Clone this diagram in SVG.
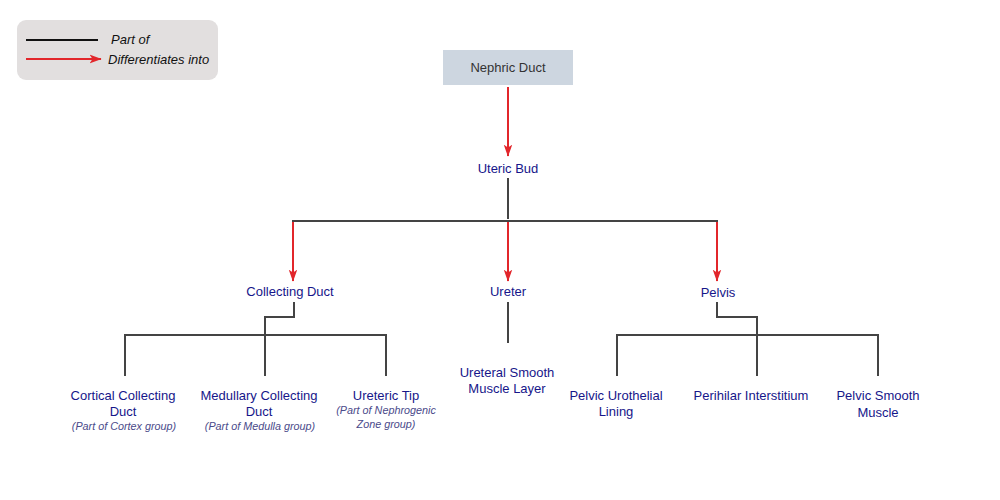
<svg xmlns="http://www.w3.org/2000/svg" width="1000" height="500" viewBox="0 0 1000 500">
<defs>
<marker id="arr" markerUnits="userSpaceOnUse" markerWidth="12" markerHeight="17" viewBox="0 0 17 12" refX="16" refY="6" orient="auto">
<path d="M0,0 L17,6 L0,12 L4,6 Z" fill="#e2262b"/>
</marker>
<style>
.part{stroke:#444;stroke-width:2;fill:none}
.diff{stroke:#e2262b;stroke-width:2;fill:none;marker-end:url(#arr)}
.lbl{font-family:"Liberation Sans",Arial,sans-serif;font-size:13px;fill:#16168a;text-anchor:middle}
.sub{font-family:"Liberation Sans",Arial,sans-serif;font-size:10.8px;font-style:italic;fill:#4a4a8a;text-anchor:middle}
.leg{font-family:"Liberation Sans",Arial,sans-serif;font-size:13px;font-style:italic;fill:#111}
</style>
</defs>
<rect width="1000" height="500" fill="#fff"/>
<g id="legend">
<rect x="17" y="20" width="201" height="60" rx="9" fill="#e2dfdf"/>
<line x1="26" y1="40" x2="98" y2="40" stroke="#111" stroke-width="2"/>
<line x1="26" y1="59" x2="101" y2="59" class="diff"/>
<text x="111" y="44" class="leg">Part of</text>
<text x="108" y="64" class="leg">Differentiates into</text>
</g>
<g id="connectors">
<line x1="508" y1="87" x2="508" y2="156" class="diff"/>
<line x1="508" y1="178" x2="508" y2="219" class="part"/>
<line x1="292" y1="221" x2="718" y2="221" class="part"/>
<line x1="293" y1="222" x2="293" y2="281" class="diff"/>
<line x1="508" y1="222" x2="508" y2="281" class="diff"/>
<line x1="717" y1="222" x2="717" y2="281" class="diff"/>
<polyline points="294,302 294,317 265,317 265,376" class="part"/>
<line x1="124" y1="335" x2="387" y2="335" class="part"/>
<line x1="125" y1="334" x2="125" y2="376" class="part"/>
<line x1="386" y1="334" x2="386" y2="376" class="part"/>
<line x1="508" y1="302" x2="508" y2="343" class="part"/>
<polyline points="717,302 717,317 757,317 757,376" class="part"/>
<line x1="616" y1="335" x2="879" y2="335" class="part"/>
<line x1="617" y1="334" x2="617" y2="376" class="part"/>
<line x1="878" y1="334" x2="878" y2="376" class="part"/>
</g>
<g id="nephric-duct">
<rect x="443" y="50" width="130" height="35" fill="#cdd6e0"/>
<text x="508" y="72" class="lbl" style="fill:#333">Nephric Duct</text>
</g>
<g id="uteric-bud"><text x="508" y="173" class="lbl">Uteric Bud</text></g>
<g id="collecting-duct"><text x="290" y="296" class="lbl">Collecting Duct</text></g>
<g id="ureter"><text x="508" y="296" class="lbl">Ureter</text></g>
<g id="pelvis"><text x="718" y="297" class="lbl">Pelvis</text></g>
<g id="cortical-collecting-duct">
<text x="123" y="400" class="lbl">Cortical Collecting</text>
<text x="123" y="416" class="lbl">Duct</text>
<text x="124" y="430" class="sub">(Part of Cortex group)</text>
</g>
<g id="medullary-collecting-duct">
<text x="259" y="400" class="lbl">Medullary Collecting</text>
<text x="259" y="416" class="lbl">Duct</text>
<text x="260" y="430" class="sub">(Part of Medulla group)</text>
</g>
<g id="ureteric-tip">
<text x="386" y="400" class="lbl">Ureteric Tip</text>
<text x="386" y="414" class="sub">(Part of Nephrogenic</text>
<text x="386" y="428" class="sub">Zone group)</text>
</g>
<g id="ureteral-smooth-muscle">
<text x="507" y="377" class="lbl">Ureteral Smooth</text>
<text x="507" y="393" class="lbl">Muscle Layer</text>
</g>
<g id="pelvic-urothelial-lining">
<text x="616" y="400" class="lbl">Pelvic Urothelial</text>
<text x="616" y="416" class="lbl">Lining</text>
</g>
<g id="perihilar-interstitium">
<text x="751" y="400" class="lbl">Perihilar Interstitium</text>
</g>
<g id="pelvic-smooth-muscle">
<text x="878" y="400" class="lbl">Pelvic Smooth</text>
<text x="878" y="417" class="lbl">Muscle</text>
</g>
</svg>
